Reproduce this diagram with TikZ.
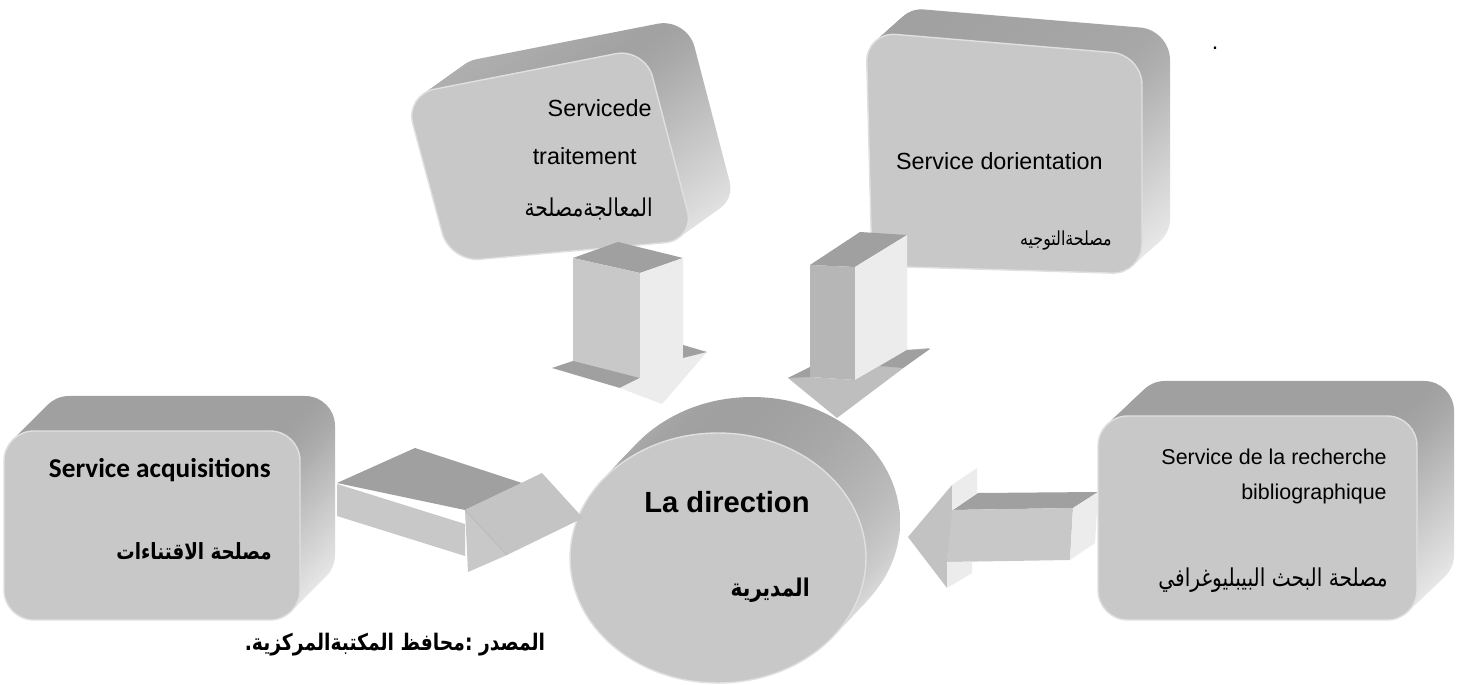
\documentclass[tikz,border=0pt]{standalone}
\usepackage{fontspec}
\setmainfont{Liberation Sans}
\newfontfamily\arabicfont[Script=Arabic, FakeStretch=0.82]{DejaVu Sans}
\newfontfamily\calfont{Carlito}
\TeXXeTstate=1
\usepackage{tikz}
\usetikzlibrary{positioning}
\definecolor{facegray}{RGB}{200,200,200}
\definecolor{topgray}{RGB}{160,160,160}
\definecolor{midgray}{RGB}{182,182,182}
\definecolor{sidegray}{RGB}{236,236,236}
\definecolor{rimgray}{RGB}{224,224,224}
\tikzstyle{face}   = [fill=facegray, draw=rimgray, line width=0.8pt, rounded corners=17pt]
\tikzstyle{depth}  = [top color=topgray, bottom color=sidegray, rounded corners=17pt]
\tikzstyle{atop}   = [fill=topgray]
\tikzstyle{afront} = [fill=facegray]
\tikzstyle{amid}   = [fill=midgray]
\tikzstyle{aside}  = [fill=sidegray]
\tikzstyle{txt}    = [inner sep=0pt, font=\fontsize{13.3pt}{16pt}\selectfont]
\tikzstyle{txtsm}  = [inner sep=0pt, font=\fontsize{12.2pt}{15pt}\selectfont]
\tikzstyle{artxt}  = [inner sep=0pt, font=\fontsize{14pt}{17pt}\selectfont\arabicfont]
\tikzstyle{arbold} = [inner sep=0pt, font=\fontsize{13pt}{16pt}\selectfont\arabicfont\bfseries]
\tikzstyle{acqtxt} = [inner sep=0pt, font=\fontsize{15.5pt}{18pt}\selectfont\calfont\bfseries]
\tikzstyle{dirtxt} = [inner sep=0pt, font=\fontsize{16.6pt}{20pt}\selectfont\bfseries]

\begin{document}
\begin{tikzpicture}[x=0.02cm, y=-0.02cm]
    \fill[white] (0,0) rectangle (1465,685);
    \useasboundingbox (0,0) rectangle (1465,685);

    % boxes: depth first, then front face
    \foreach \k in {20,19,...,1} {
        \path[depth, shift={({\k*2.1},{-\k*1.5})}] (405,95) -- (645,48) -- (695,240) -- (450,262) -- cycle;
        \path[depth, shift={({\k*1.4},{-\k*1.25})}] (866,32) -- (1142,55) -- (1142,274) -- (872,266) -- cycle;
        \path[depth, shift={({\k*1.75},{-\k*1.75})}] (4,431) -- (300,431) -- (300,620) -- (4,620) -- cycle;
        \path[depth, shift={({\k*1.85},{-\k*1.75})}] (1098,416) -- (1417,416) -- (1417,620) -- (1098,620) -- cycle;
        \path[depth, shift={({\k*1.7},{-\k*1.8})}] (718,558) ellipse [x radius=2.96cm, y radius=2.5cm];
    }
    \path[face] (405,95) -- (645,48) -- (695,240) -- (450,262) -- cycle;
    \path[face] (866,32) -- (1142,55) -- (1142,274) -- (872,266) -- cycle;
    \path[face] (4,431) -- (300,431) -- (300,620) -- (4,620) -- cycle;
    \path[face] (1098,416) -- (1417,416) -- (1417,620) -- (1098,620) -- cycle;
    \path[fill=facegray, draw=rimgray, line width=0.8pt] (718,558) ellipse [x radius=2.96cm, y radius=2.5cm];

    % arrow: traitement -> direction
    \fill[atop]   (573,258) -- (618,242) -- (683,258) -- (640,273) -- cycle;
    \fill[afront] (573,258) -- (640,273) -- (640,378) -- (573,362) -- cycle;
    \fill[atop]   (552,368) -- (573,361) -- (640,378) -- (620,388) -- cycle;
    \fill[aside]  (640,273) -- (683,258) -- (683,352) -- (707,352) -- (662,404) -- (620,388) -- (640,378) -- cycle;
    \fill[atop]   (683,345) -- (707,352) -- (683,358) -- cycle;

    % arrow: orientation -> direction
    \fill[atop]   (810,265) -- (860,232) -- (907,235) -- (855,267) -- cycle;
    \fill[amid]   (810,265) -- (855,267) -- (855,380) -- (810,377) -- cycle;
    \fill[aside]  (855,267) -- (907,235) -- (907,350) -- (855,380) -- cycle;
    \fill[facegray!95!black] (788,378) -- (810,370) -- (810,377) -- (855,380) -- (907,350) -- (930,348) -- (837,418) -- cycle;
    \fill[atop]   (788,378) -- (810,367) -- (810,377) -- cycle;
    \fill[atop]   (880,366) -- (907,350) -- (930,349) -- (903,368) -- cycle;

    % arrow: acquisitions -> direction
    \fill[atop]   (337,483) -- (415,448) -- (522,483) -- (465,510) -- cycle;
    \fill[afront] (337,484) -- (465,524) -- (465,556) -- (337,516) -- cycle;
    \fill[facegray!98!black] (465,510) -- (542,473) -- (583,518) -- (507,555) -- cycle;
    \fill[afront] (465,510) -- (507,555) -- (468,572) -- cycle;
    \draw[gray!55] (465,510) -- (507,555);

    % arrow: recherche -> direction
    \fill[atop]   (953,510) -- (978,493) -- (1098,492) -- (1073,508) -- cycle;
    \fill[afront] (950,510) -- (1073,508) -- (1070,560) -- (947,562) -- cycle;
    \fill[aside]  (1073,508) -- (1098,492) -- (1095,543) -- (1070,560) -- cycle;
    \fill[facegray!97!black] (908,537) -- (952,485) -- (952,510) -- (947,562) -- (947,588) -- cycle;
    \fill[aside]  (952,485) -- (977,468) -- (977,493) -- (952,510) -- cycle;
    \fill[aside]  (947,562) -- (972,562) -- (972,573) -- (947,588) -- cycle;

    % labels
    \node (trait1) at (652,117)  [txt, anchor=base east] {Servicede};
    \node (trait2) at (637,165)  [txt, anchor=base east] {traitement};
    \node (trait3) at (653,209)  [artxt, anchor=east] {\beginR المعالجةمصلحة\endR};
    \node (orient1) at (1103,170) [txt, anchor=base east] {Service dorientation};
    \node (orient2) at (1112,241) [artxt, font=\fontsize{11pt}{14pt}\selectfont\arabicfont, anchor=east] {\beginR مصلحةالتوجيه\endR};
    \node (acq1) at (271,478)    [acqtxt, anchor=base east] {Service acquisitions};
    \node (acq2) at (272,551)    [arbold, font=\fontsize{12.7pt}{15pt}\selectfont\arabicfont\bfseries, anchor=east] {\beginR مصلحة الاقتناءات\endR};
    \node (rech1) at (1387,465)  [txtsm, anchor=base east] {Service de la recherche};
    \node (rech2) at (1387,500)  [txtsm, anchor=base east] {bibliographique};
    \node (rech3) at (1388,580)  [artxt, anchor=east] {\beginR مصلحة البحث البيبليوغرافي\endR};
    \node (dir1) at (727,513)    [dirtxt, anchor=base] {La direction};
    \node (dir2) at (810,590)    [arbold, font=\fontsize{13.9pt}{16pt}\selectfont\arabicfont\bfseries, anchor=east] {\beginR المديرية\endR};
    \node (src) at (395,645)     [arbold] {\beginR المصدر :محافظ المكتبةالمركزية.\endR};
    \node (dot) at (1215,48)     [txt] {.};
\end{tikzpicture}
\end{document}
